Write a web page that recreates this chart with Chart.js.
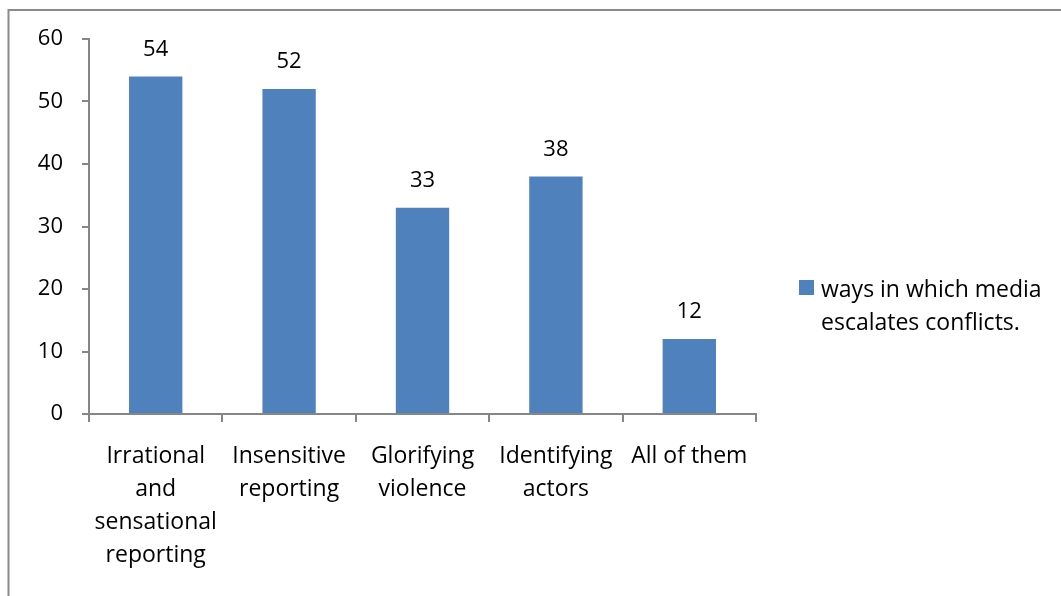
<!DOCTYPE html>
<html>
<head>
<meta charset="utf-8">
<script src="https://cdn.jsdelivr.net/npm/chart.js@4/dist/chart.umd.min.js"></script>
<style>
  html, body { margin: 0; padding: 0; background: #fff; }
  #wrap { width: 1061px; height: 596px; position: relative; }
</style>
</head>
<body>
<div id="wrap"><canvas id="c" width="1061" height="596"></canvas></div>
<script>
const categories = [
  ['Irrational', 'and', 'sensational', 'reporting'],
  ['Insensitive', 'reporting'],
  ['Glorifying', 'violence'],
  ['Identifying', 'actors'],
  'All of them'
];
const values = [54, 52, 33, 38, 12];
const seriesName = ['ways in which media', 'escalates conflicts.'];
const yTicks = [0, 10, 20, 30, 40, 50, 60];

const FONT = '"Open Sans", "Liberation Sans", sans-serif';
const TEXT_SIZE = 23;
const NUM_SIZE = 22;
const BAR = '#4F81BD';
const AXIS = '#868686';

// Outer frame, value labels and the side legend
const extras = {
  id: 'extras',
  beforeDraw(chart) {
    const ctx = chart.ctx;
    ctx.save();
    ctx.strokeStyle = '#8a8a8a';
    ctx.lineWidth = 2;
    ctx.beginPath();
    ctx.moveTo(8.5, 600);
    ctx.lineTo(8.5, 10);
    ctx.lineTo(1070, 10);
    ctx.stroke();
    ctx.restore();
  },
  afterDatasetsDraw(chart) {
    const ctx = chart.ctx;
    const meta = chart.getDatasetMeta(0);
    ctx.save();
    ctx.fillStyle = '#000';
    ctx.font = NUM_SIZE + 'px ' + FONT;
    ctx.textAlign = 'center';
    ctx.textBaseline = 'middle';
    meta.data.forEach((bar, i) => {
      ctx.fillText(String(values[i]), bar.x, bar.y - 27);
    });

    // legend
    const lx = 799, ly = 280;
    ctx.fillStyle = BAR;
    ctx.fillRect(lx, ly, 15, 15);
    ctx.fillStyle = '#000';
    ctx.font = TEXT_SIZE + 'px ' + FONT;
    ctx.textAlign = 'left';
    ctx.textBaseline = 'alphabetic';
    seriesName.forEach((line, i) => {
      ctx.fillText(line, 821, 297 + i * 33);
    });
    ctx.restore();
  }
};

new Chart(document.getElementById('c'), {
  type: 'bar',
  data: {
    labels: categories,
    datasets: [{
      label: seriesName.join(' '),
      data: values,
      backgroundColor: BAR,
      borderWidth: 0,
      categoryPercentage: 1,
      barPercentage: 0.4
    }]
  },
  options: {
    responsive: false,
    animation: false,
    events: [],
    layout: { padding: { top: 39, right: 305, bottom: 0, left: 0 } },
    plugins: {
      legend: { display: false },
      tooltip: { enabled: false }
    },
    scales: {
      x: {
        afterFit(scale) { scale.height = 596 - 414; },
        grid: {
          display: true,
          offset: true,
          drawOnChartArea: false,
          drawTicks: true,
          tickLength: 8,
          color: AXIS,
          lineWidth: 2
        },
        border: { display: true, color: AXIS, width: 2 },
        ticks: {
          color: '#000',
          font: { family: FONT, size: TEXT_SIZE, lineHeight: 33 / TEXT_SIZE },
          padding: 18,
          maxRotation: 0,
          minRotation: 0,
          autoSkip: false
        }
      },
      y: {
        min: 0,
        max: 60,
        afterFit(scale) { scale.width = 89; },
        afterBuildTicks(scale) { scale.ticks = yTicks.map(v => ({ value: v })); },
        grid: {
          display: true,
          drawOnChartArea: false,
          drawTicks: true,
          tickLength: 7,
          color: AXIS,
          lineWidth: 2
        },
        border: { display: true, color: AXIS, width: 2 },
        ticks: {
          color: '#000',
          font: { family: FONT, size: NUM_SIZE },
          padding: 19
        }
      }
    }
  },
  plugins: [extras]
});
</script>
</body>
</html>
